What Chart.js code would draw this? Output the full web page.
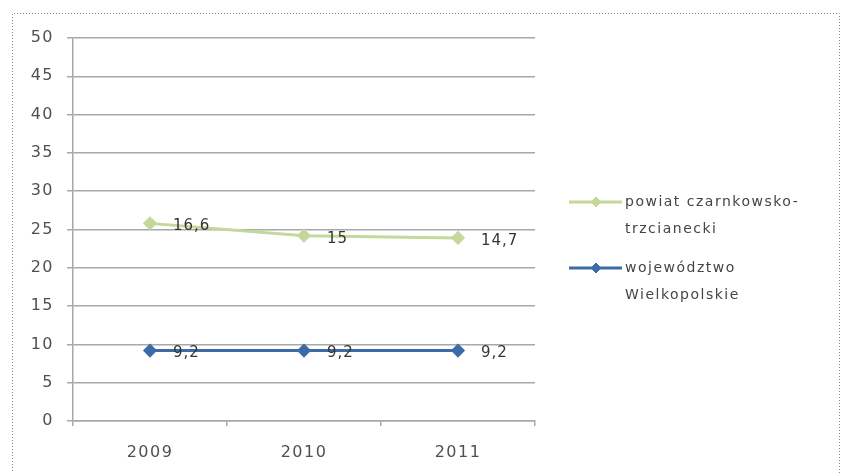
<!DOCTYPE html>
<html>
<head>
<meta charset="utf-8">
<script src="https://cdn.jsdelivr.net/npm/chart.js@4/dist/chart.umd.min.js"></script>
<style>
  html, body { margin: 0; padding: 0; background: #ffffff; }
  #wrap { width: 843px; height: 473px; position: relative; }
</style>
</head>
<body>
<div id="wrap"><canvas id="c" width="843" height="473"></canvas></div>
<script>
// Years on the horizontal axis
const years = ['2009', '2010', '2011'];

// Series names (split into the two lines shown in the legend)
const powiatName = ['powiat czarnkowsko-', 'trzcianecki'];
const wojName = ['województwo', 'Wielkopolskie'];

// Series values (stacked line chart: the powiat series sits on top of the voivodeship one)
const wojValues = [9.2, 9.2, 9.2];
const powiatValues = [16.6, 15, 14.7];

// Value axis range
const yMin = 0;
const yMax = 50;
const yStep = 5;

const BLUE = '#3c6ba8';
const GREEN = '#c4d89a';
const FONT = '"DejaVu Sans", Verdana, sans-serif';

const fmt = v => String(v).replace('.', ',');

// Dotted outer frame of the chart object
const framePlugin = {
  id: 'frame',
  beforeDraw(chart) {
    const ctx = chart.ctx;
    ctx.save();
    ctx.strokeStyle = '#8a8a8a';
    ctx.lineWidth = 1;
    ctx.setLineDash([1, 2]);
    ctx.beginPath();
    ctx.moveTo(12.5, 480);
    ctx.lineTo(12.5, 13.5);
    ctx.lineTo(839.5, 13.5);
    ctx.lineTo(839.5, 480);
    ctx.stroke();
    ctx.restore();
  }
};

// Value labels written to the right of each point
const valueLabels = {
  id: 'valueLabels',
  afterDatasetsDraw(chart) {
    const ctx = chart.ctx;
    ctx.save();
    ctx.font = '15px ' + FONT;
    ctx.letterSpacing = '1px';
    ctx.fillStyle = '#353535';
    ctx.textAlign = 'left';
    ctx.textBaseline = 'middle';
    chart.data.datasets.forEach((ds, i) => {
      chart.getDatasetMeta(i).data.forEach((pt, j) => {
        ctx.fillText(fmt(ds.data[j]), pt.x + 23, pt.y + 3);
      });
    });
    ctx.restore();
  }
};

// Legend on the right with two-line entries
const sideLegend = {
  id: 'sideLegend',
  afterDraw(chart) {
    const ctx = chart.ctx;
    const entries = [
      { ds: chart.data.datasets[1], lines: powiatName, y: 202 },
      { ds: chart.data.datasets[0], lines: wojName, y: 268 }
    ];
    ctx.save();
    entries.forEach(e => {
      ctx.strokeStyle = e.ds.borderColor;
      ctx.lineWidth = 3;
      ctx.beginPath();
      ctx.moveTo(569, e.y);
      ctx.lineTo(622, e.y);
      ctx.stroke();
      ctx.fillStyle = e.ds.pointBackgroundColor;
      ctx.strokeStyle = e.ds.pointBorderColor;
      ctx.lineWidth = 1;
      Chart.helpers.drawPoint(ctx, { pointStyle: 'rectRot', radius: 5, rotation: 0, borderWidth: 1 }, 596, e.y);
      ctx.font = '14px ' + FONT;
      ctx.letterSpacing = '1.5px';
      ctx.fillStyle = '#454545';
      ctx.textAlign = 'left';
      ctx.textBaseline = 'middle';
      e.lines.forEach((t, k) => ctx.fillText(t, 625, e.y + k * 27));
    });
    ctx.restore();
  }
};

// Wider glyph spacing for the axis text
const spacing = {
  id: 'spacing',
  beforeDraw(chart) { chart.ctx.letterSpacing = '1.5px'; }
};

new Chart(document.getElementById('c'), {
  type: 'line',
  data: {
    labels: years,
    datasets: [
      {
        label: wojName.join(' '),
        data: wojValues,
        borderColor: BLUE,
        backgroundColor: BLUE,
        pointBackgroundColor: BLUE,
        pointBorderColor: BLUE,
        borderWidth: 3,
        pointStyle: 'rectRot',
        pointRadius: 5,
        fill: false,
        tension: 0
      },
      {
        label: powiatName.join(''),
        data: powiatValues,
        borderColor: GREEN,
        backgroundColor: GREEN,
        pointBackgroundColor: GREEN,
        pointBorderColor: GREEN,
        borderWidth: 3,
        pointStyle: 'rectRot',
        pointRadius: 5,
        fill: false,
        tension: 0
      }
    ]
  },
  options: {
    responsive: false,
    animation: false,
    devicePixelRatio: 1,
    layout: { padding: { top: 38, right: 308, bottom: 0, left: 0 } },
    plugins: {
      legend: { display: false },
      tooltip: { enabled: false }
    },
    scales: {
      x: {
        offset: true,
        grid: {
          offset: true,
          drawOnChartArea: false,
          color: '#a8a8a8',
          lineWidth: 1.5,
          tickLength: 5
        },
        border: { color: '#a8a8a8', width: 1.5 },
        ticks: {
          color: '#505050',
          font: { family: FONT, size: 16 },
          padding: 17
        },
        afterFit(s) { s.height = 52; }
      },
      y: {
        stacked: true,
        min: yMin,
        max: yMax,
        ticks: {
          stepSize: yStep,
          color: '#505050',
          font: { family: FONT, size: 16 },
          padding: 13
        },
        grid: {
          color: '#a8a8a8',
          lineWidth: 1.5,
          tickLength: 6
        },
        border: { color: '#a8a8a8', width: 1.5 },
        afterFit(s) { s.width = 73; }
      }
    }
  },
  plugins: [framePlugin, spacing, valueLabels, sideLegend]
});
</script>
</body>
</html>
